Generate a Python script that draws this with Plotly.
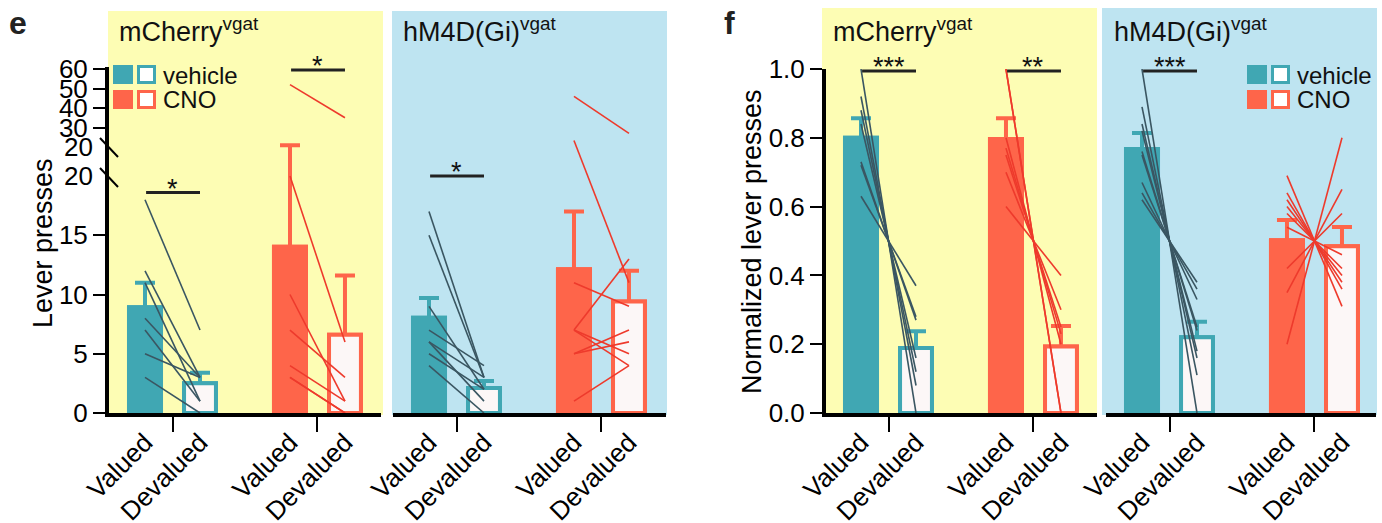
import plotly.graph_objects as go

W, H = 1382, 523
FONT = "Liberation Sans, Arial, Helvetica, sans-serif"
TEAL = "#40A7B3"
RED = "#FE654A"
TEAL_LINE = "#3A5662"
RED_LINE = "#EE3A2C"
YELLOW_BG = "#FDFDB4"
BLUE_BG = "#BEE4F1"
PALE = "#FCF7F7"

# ---------------- data ----------------
CATS = ["Valued", "Devalued", "Valued", "Devalued"]

# panel e: lever presses (mean, error up)
E_MCH_VEH_MEAN = [9.1, 2.5]
E_MCH_VEH_ERR = [1.9, 0.9]
E_MCH_CNO_MEAN = [14.2, 6.6]
E_MCH_CNO_ERR = [8.4, 5.0]
E_HM4_VEH_MEAN = [8.2, 2.1]
E_HM4_VEH_ERR = [1.5, 0.6]
E_HM4_CNO_MEAN = [12.3, 9.4]
E_HM4_CNO_ERR = [4.7, 2.6]

# panel e: individual animals (valued -> devalued)
E_MCH_VEH_VAL = [18, 12, 11, 8, 7, 5, 3]
E_MCH_VEH_DEV = [7, 3, 1, 3, 1, 3, 0]
E_MCH_CNO_VAL = [20, 10, 7, 4, 3, 3]
E_MCH_CNO_DEV = [6, 1, 3, 1, 0, 0]
E_MCH_CNO_VAL_HI = [52]
E_MCH_CNO_DEV_HI = [35]
E_HM4_VEH_VAL = [17, 15, 9, 7, 6, 6, 5, 4]
E_HM4_VEH_DEV = [3, 3, 2, 4, 3, 1, 2, 0]
E_HM4_CNO_VAL = [23, 11, 7, 7, 7, 5, 5, 1]
E_HM4_CNO_DEV = [11, 9, 13, 5, 4, 7, 6, 4]
E_HM4_CNO_VAL_HI = [46]
E_HM4_CNO_DEV_HI = [27]

# panel f: normalized lever presses
F_MCH_VEH_MEAN = [0.806, 0.189]
F_MCH_VEH_ERR = [0.051, 0.049]
F_MCH_CNO_MEAN = [0.802, 0.193]
F_MCH_CNO_ERR = [0.055, 0.060]
F_HM4_VEH_MEAN = [0.773, 0.220]
F_HM4_VEH_ERR = [0.041, 0.045]
F_HM4_CNO_MEAN = [0.508, 0.485]
F_HM4_CNO_ERR = [0.053, 0.056]

F_MCH_VEH_VAL = [1.0, 0.92, 0.88, 0.84, 0.73, 0.72, 0.63]
F_MCH_VEH_DEV = [0.0, 0.08, 0.12, 0.16, 0.27, 0.28, 0.37]
F_MCH_CNO_VAL = [1.0, 1.0, 0.80, 0.77, 0.75, 0.70, 0.60]
F_MCH_CNO_DEV = [0.0, 0.0, 0.20, 0.23, 0.25, 0.30, 0.40]
F_HM4_VEH_VAL = [1.0, 0.89, 0.84, 0.82, 0.76, 0.75, 0.67, 0.64, 0.62]
F_HM4_VEH_DEV = [0.0, 0.11, 0.16, 0.18, 0.24, 0.25, 0.33, 0.36, 0.38]
F_HM4_CNO_VAL = [0.69, 0.64, 0.62, 0.60, 0.58, 0.54, 0.42, 0.35, 0.20]
F_HM4_CNO_DEV = [0.31, 0.36, 0.38, 0.40, 0.42, 0.46, 0.58, 0.65, 0.80]

# significance
SIG_TEXT = ["*", "*", "*", "***", "**", "***"]
SIG_Y = [18.6, 59.5, 20.0, 0.994, 0.994, 0.994]
SIG_AXES = [("x", "y"), ("x", "y2"), ("x2", "y"), ("x3", "y3"), ("x3", "y3"), ("x4", "y3")]
SIG_SLOT = [0, 2, 0, 0, 2, 0]

# ---------------- geometry ----------------
def fx(p):
    return p / W

def fy(p):
    return 1 - p / H

PPU = 55.0
SLOT = [0.0, 1.0, 2.636, 3.636]
# (axis, left px, right px, px of first slot)
XAX = {
    "x": (109, 381, 145),
    "x2": (393, 666, 429),
    "x3": (826, 1097, 861),
    "x4": (1106, 1376, 1142),
}
E_Y0, E_PPY = 413.0, 11.85
E_TOP = 24.0
UP20, UP_PPY = 147.0, 1.95
UP_TOP = 61.0
F_Y0, F_Y1 = 413.0, 69.0

fig = go.Figure()

def add_bars(xa, ya, mean, err, color, s0):
    specs = [
        (SLOT[s0], mean[0], err[0], 0.655, dict(color=color, line=dict(width=0))),
        (SLOT[s0 + 1], mean[1], err[1], 0.58, dict(color=PALE, line=dict(color=color, width=4))),
    ]
    for xv, m, e, wd, mk in specs:
        # bar carrying the error bar (symmetric so the lower end is hidden by the overlay)
        fig.add_trace(go.Bar(
            x=[xv], y=[m], width=wd, xaxis=xa, yaxis=ya, marker=mk,
            error_y=dict(type="data", array=[e], symmetric=True,
                         color=color, thickness=4, width=10),
            showlegend=False, hoverinfo="skip"))
        # identical bar drawn on top, hiding the part of the error bar inside the bar
        fig.add_trace(go.Bar(
            x=[xv], y=[m], width=wd, xaxis=xa, yaxis=ya, marker=mk,
            showlegend=False, hoverinfo="skip"))

def add_lines(xa, ya, val, dev, color, s0):
    xs, ys = [], []
    for v, d in zip(val, dev):
        xs += [SLOT[s0], SLOT[s0 + 1], None]
        ys += [v, d, None]
    fig.add_trace(go.Scatter(x=xs, y=ys, xaxis=xa, yaxis=ya, mode="lines",
                             line=dict(color=color, width=1.6),
                             showlegend=False, hoverinfo="skip"))

# bars
add_bars("x", "y", E_MCH_VEH_MEAN, E_MCH_VEH_ERR, TEAL, 0)
add_bars("x", "y", E_MCH_CNO_MEAN, E_MCH_CNO_ERR, RED, 2)
add_bars("x2", "y", E_HM4_VEH_MEAN, E_HM4_VEH_ERR, TEAL, 0)
add_bars("x2", "y", E_HM4_CNO_MEAN, E_HM4_CNO_ERR, RED, 2)
add_bars("x3", "y3", F_MCH_VEH_MEAN, F_MCH_VEH_ERR, TEAL, 0)
add_bars("x3", "y3", F_MCH_CNO_MEAN, F_MCH_CNO_ERR, RED, 2)
add_bars("x4", "y3", F_HM4_VEH_MEAN, F_HM4_VEH_ERR, TEAL, 0)
add_bars("x4", "y3", F_HM4_CNO_MEAN, F_HM4_CNO_ERR, RED, 2)

# individual lines
add_lines("x", "y", E_MCH_VEH_VAL, E_MCH_VEH_DEV, TEAL_LINE, 0)
add_lines("x", "y", E_MCH_CNO_VAL, E_MCH_CNO_DEV, RED_LINE, 2)
add_lines("x", "y2", E_MCH_CNO_VAL_HI, E_MCH_CNO_DEV_HI, RED_LINE, 2)
add_lines("x2", "y", E_HM4_VEH_VAL, E_HM4_VEH_DEV, TEAL_LINE, 0)
add_lines("x2", "y", E_HM4_CNO_VAL, E_HM4_CNO_DEV, RED_LINE, 2)
add_lines("x2", "y2", E_HM4_CNO_VAL_HI, E_HM4_CNO_DEV_HI, RED_LINE, 2)
add_lines("x3", "y3", F_MCH_VEH_VAL, F_MCH_VEH_DEV, TEAL_LINE, 0)
add_lines("x3", "y3", F_MCH_CNO_VAL, F_MCH_CNO_DEV, RED_LINE, 2)
add_lines("x4", "y3", F_HM4_VEH_VAL, F_HM4_VEH_DEV, TEAL_LINE, 0)
add_lines("x4", "y3", F_HM4_CNO_VAL, F_HM4_CNO_DEV, RED_LINE, 2)

annotations = []
# significance bars
for txt, yv, (xa, ya), s in zip(SIG_TEXT, SIG_Y, SIG_AXES, SIG_SLOT):
    fig.add_trace(go.Scatter(x=[SLOT[s] + 0.02, SLOT[s + 1]], y=[yv, yv], xaxis=xa, yaxis=ya,
                             mode="lines", line=dict(color="#222222", width=3),
                             showlegend=False, hoverinfo="skip"))
    annotations.append(dict(x=(SLOT[s] + SLOT[s + 1]) / 2, y=yv, xref=xa, yref=ya,
                            text=txt, showarrow=False, yanchor="middle", yshift=4,
                            font=dict(family=FONT, size=27, color="#111")))

tickfont = dict(family=FONT, size=26, color="black")
layout_axes = {}
for name, (L, R, c0) in XAX.items():
    anchor = "y" if name in ("x", "x2") else "y3"
    layout_axes[name.replace("x", "xaxis")] = dict(
        domain=[fx(L), fx(R)], range=[(L - c0) / PPU, (R - c0) / PPU], anchor=anchor,
        automargin=False,
        showline=True, linewidth=4, linecolor="black", showgrid=False, zeroline=False,
        tickmode="array", tickvals=SLOT, ticktext=CATS, tickangle=-45, ticks="",
        tickfont=tickfont,
        minor=dict(tickmode="array", tickvals=[0.5, (SLOT[2] + SLOT[3]) / 2], ticks="outside",
                   ticklen=15, tickwidth=2, tickcolor="black"),
    )

yax_common = dict(showline=True, linewidth=4, linecolor="black", showgrid=False, zeroline=False,
                  automargin=False,
                  ticks="outside", ticklen=12, tickwidth=2, tickcolor="black", tickfont=tickfont)
layout_axes["yaxis"] = dict(domain=[fy(E_Y0), fy(E_Y0 - E_TOP * E_PPY)], range=[0, E_TOP],
                            anchor="x", tickvals=[0, 5, 10, 15], **yax_common)
layout_axes["yaxis2"] = dict(domain=[fy(UP20), fy(UP20 - (UP_TOP - 20) * UP_PPY)], range=[20, UP_TOP],
                             anchor="x", tickvals=[30, 40, 50, 60], **yax_common)
layout_axes["yaxis3"] = dict(domain=[fy(F_Y0), fy(F_Y1)], range=[0, 1], anchor="x3",
                             tickvals=[0, 0.2, 0.4, 0.6, 0.8, 1.0], tickformat=".1f", **yax_common)

shapes = []
# background panels
for (x0, x1, y0, y1, c) in [(108, 383, 11, 415, YELLOW_BG), (392, 667, 11, 415, BLUE_BG),
                            (822, 1097, 8, 415, YELLOW_BG), (1102, 1377, 8, 415, BLUE_BG)]:
    shapes.append(dict(type="rect", xref="paper", yref="paper", x0=fx(x0), x1=fx(x1),
                       y0=fy(y1), y1=fy(y0), fillcolor=c, line=dict(width=0), layer="below"))
# axis break marks
for (x0, y0, x1, y1) in [(100, 138, 118, 157), (100, 168, 118, 187)]:
    shapes.append(dict(type="line", xref="paper", yref="paper", x0=fx(x0), y0=fy(y0),
                       x1=fx(x1), y1=fy(y1), line=dict(color="black", width=2)))
# legends
def legend(x, y):
    for row, col in enumerate([TEAL, RED]):
        yy = y + row * 25
        shapes.append(dict(type="rect", xref="paper", yref="paper", x0=fx(x), x1=fx(x + 20),
                           y0=fy(yy + 19), y1=fy(yy), fillcolor=col, line=dict(width=0)))
        shapes.append(dict(type="rect", xref="paper", yref="paper", x0=fx(x + 25.5), x1=fx(x + 41.5),
                           y0=fy(yy + 17.5), y1=fy(yy + 1.5), fillcolor="white",
                           line=dict(color=col, width=3)))
    for row, txt in enumerate(["vehicle", "CNO"]):
        annotations.append(dict(x=fx(x + 48), y=fy(y + 10 + row * 25), xref="paper", yref="paper",
                                text=txt, showarrow=False, xanchor="left", yanchor="middle",
                                font=dict(family=FONT, size=24, color="#111")))

legend(113, 65)
legend(1247, 65)

# "20" labels at the axis break
for ya in ["y", "y2"]:
    annotations.append(dict(x=fx(95), y=20, xref="paper", yref=ya, text="20", showarrow=False,
                            xanchor="right", yanchor="middle", font=tickfont))

# panel titles
for x, txt in [(117, "mCherry<sup>vgat</sup>"), (401, "hM4D(Gi)<sup>vgat</sup>"),
               (831, "mCherry<sup>vgat</sup>"), (1112, "hM4D(Gi)<sup>vgat</sup>")]:
    annotations.append(dict(x=fx(x), y=fy(30), xref="paper", yref="paper", text=txt,
                            showarrow=False, xanchor="left", yanchor="middle",
                            font=dict(family=FONT, size=27, color="#111")))
# panel letters
for x, txt in [(7, "e"), (722, "f")]:
    annotations.append(dict(x=fx(x), y=fy(23), xref="paper", yref="paper", text=f"<b>{txt}</b>",
                            showarrow=False, xanchor="left", yanchor="middle",
                            font=dict(family=FONT, size=32, color="#222")))
# y titles
annotations.append(dict(x=fx(43), y=fy(243), xref="paper", yref="paper", text="Lever presses",
                        textangle=-90, showarrow=False, xanchor="center", yanchor="middle",
                        font=dict(family=FONT, size=27, color="black")))
annotations.append(dict(x=fx(752), y=fy(242), xref="paper", yref="paper",
                        text="Normalized lever presses", textangle=-90, showarrow=False,
                        xanchor="center", yanchor="middle",
                        font=dict(family=FONT, size=27, color="black")))

fig.update_layout(
    width=W, height=H, margin=dict(l=0, r=0, t=0, b=0, autoexpand=False),
    paper_bgcolor="white", plot_bgcolor="rgba(0,0,0,0)",
    barmode="overlay", showlegend=False,
    shapes=shapes, annotations=annotations,
    font=dict(family=FONT),
    **layout_axes,
)

fig.write_html("out.html")
